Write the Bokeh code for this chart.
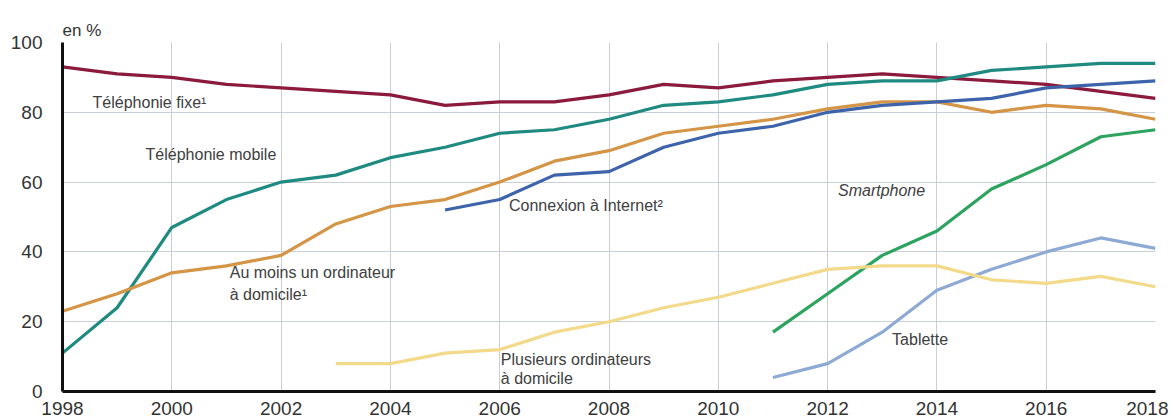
from bokeh.plotting import figure
from bokeh.models import Range1d, FixedTicker
from bokeh.core.properties import value
from bokeh.embed import file_html
from bokeh.resources import INLINE

years = list(range(1998, 2019))
fixe = [93, 91, 90, 88, 87, 86, 85, 82, 83, 83, 85, 88, 87, 89, 90, 91, 90, 89, 88, 86, 84]
mobile = [11, 24, 47, 55, 60, 62, 67, 70, 74, 75, 78, 82, 83, 85, 88, 89, 89, 92, 93, 94, 94]
ordinateur = [23, 28, 34, 36, 39, 48, 53, 55, 60, 66, 69, 74, 76, 78, 81, 83, 83, 80, 82, 81, 78]
internet_years = list(range(2005, 2019))
internet = [52, 55, 62, 63, 70, 74, 76, 80, 82, 83, 84, 87, 88, 89]
smart_years = list(range(2011, 2019))
smartphone = [17, 28, 39, 46, 58, 65, 73, 75]
tab_years = list(range(2011, 2019))
tablette = [4, 8, 17, 29, 35, 40, 44, 41]
plus_years = list(range(2003, 2019))
plusieurs = [8, 8, 11, 12, 17, 20, 24, 27, 31, 35, 36, 36, 32, 31, 33, 30]

x_ticks = list(range(1998, 2019, 2))
y_ticks = [0, 20, 40, 60, 80, 100]

FONT = "Liberation Sans"

p = figure(width=1168, height=417, output_backend="svg", toolbar_location=None,
           x_range=Range1d(1998, 2018), y_range=Range1d(0, 100),
           min_border_left=62, min_border_right=13, min_border_top=42, min_border_bottom=26)
p.background_fill_color = "white"
p.outline_line_color = None

p.title.text = "en %"
p.title.text_font = FONT
p.title.text_font_size = "17px"
p.title.text_font_style = "normal"
p.title.text_color = "#333333"
p.title.align = "left"
p.title.offset = 0
p.title.standoff = 6

for ax in (p.xaxis[0], p.yaxis[0]):
    ax.axis_line_color = "#111111"
    ax.axis_line_width = 3
    ax.major_tick_line_color = None
    ax.minor_tick_line_color = None
    ax.major_label_text_font = FONT
    ax.major_label_text_font_size = "19px"
    ax.major_label_text_color = "#333333"
p.xaxis[0].ticker = FixedTicker(ticks=x_ticks)
p.yaxis[0].ticker = FixedTicker(ticks=y_ticks)
p.xaxis[0].major_label_standoff = 4
p.yaxis[0].major_label_standoff = 14

p.xgrid.ticker = FixedTicker(ticks=x_ticks)
p.ygrid.ticker = FixedTicker(ticks=y_ticks)
for g in (p.xgrid[0], p.ygrid[0]):
    g.grid_line_color = "#c9cfd6"
    g.grid_line_width = 1

lw = 3.2
p.line(years, fixe, line_color="#8b1a3c", line_width=lw, line_join="round")
p.line(years, mobile, line_color="#1f8a80", line_width=lw, line_join="round")
p.line(years, ordinateur, line_color="#d49546", line_width=lw, line_join="round")
p.line(internet_years, internet, line_color="#3d63ab", line_width=lw, line_join="round")
p.line(smart_years, smartphone, line_color="#2ca35f", line_width=lw, line_join="round")
p.line(tab_years, tablette, line_color="#8eaad4", line_width=lw, line_join="round")
p.line(plus_years, plusieurs, line_color="#f2da8a", line_width=lw, line_join="round")

lab_x = [1998.55, 1999.52, 2001.06, 2001.06, 2006.17, 2013.18, 2006.02, 2006.02]
lab_y = [82.7, 68.0, 34.0, 27.9, 53.2, 14.8, 9.3, 3.6]
lab_t = ["Téléphonie fixe¹", "Téléphonie mobile", "Au moins un ordinateur", "à domicile¹",
         "Connexion à Internet²", "Tablette", "Plusieurs ordinateurs", "à domicile"]
p.text(x=lab_x, y=lab_y, text=lab_t, text_font=value(FONT), text_font_size=value("16px"),
       text_baseline="middle", text_align="left", text_color="#404040")
p.text(x=[2012.19], y=[57.5], text=["Smartphone"], text_font=value(FONT),
       text_font_size=value("16px"), text_font_style="italic",
       text_baseline="middle", text_align="left", text_color="#404040")

open("out.html", "w").write(file_html(p, INLINE))
